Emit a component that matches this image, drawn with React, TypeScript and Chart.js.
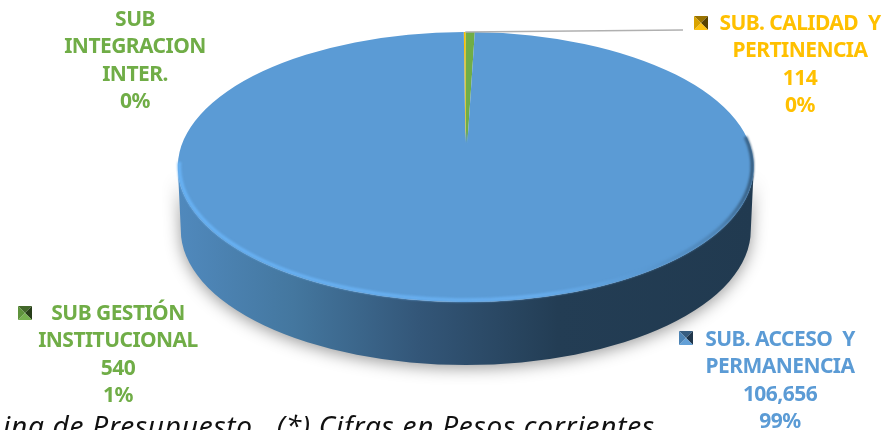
import React, { useEffect, useRef } from "react";
import { Chart, registerables } from "chart.js";

Chart.register(...registerables);

const categories = ["SUB. CALIDAD Y PERTINENCIA", "SUB GESTIÓN INSTITUCIONAL", "SUB. ACCESO Y PERMANENCIA", "SUB INTEGRACION INTER."];
const values = [114, 540, 106656, 0];
const sliceColors = ["#ffc000", "#70ad47", "#5b9bd5", "#70ad47"];

const labelLines = [
  ["SUB. CALIDAD  Y", "PERTINENCIA", "114", "0%"],
  ["SUB GESTIÓN", "INSTITUCIONAL", "540", "1%"],
  ["SUB. ACCESO  Y", "PERMANENCIA", "106,656", "99%"],
  ["SUB", "INTEGRACION", "INTER.", "0%"],
];
const labelCenters = [[800, 24], [118, 314], [780, 340], [135, 20]];
const markerSpots: (number[] | null)[] = [[694, 16], [18, 306], [679, 331], null];
const caption = "ina de Presupuesto.  (*) Cifras en Pesos corrientes";

const PIE = { cx: 465.8, cy: 167, rx: 288, ry: 135, depth: 63, bottomRx: 285 };
const LINE_GAP = 27.5;
const FONT = '700 21px "Noto Sans"';

const shade = (hex: string, f: number) => {
  const n = parseInt(hex.slice(1), 16);
  const c = [(n >> 16) & 255, (n >> 8) & 255, n & 255].map((v) => Math.round(f > 1 ? v + (255 - v) * (f - 1) : v * f));
  return `rgb(${c[0]},${c[1]},${c[2]})`;
};

const pie3d = {
  id: "pie3d",
  beforeDatasetsDraw(chart: any) {
    const { ctx } = chart;
    const { cx, cy, rx, ry, depth, bottomRx } = PIE;
    const wallPath = () => {
      ctx.beginPath();
      ctx.ellipse(cx, cy, rx, ry, 0, Math.PI, 0, true);
      ctx.ellipse(cx, cy + depth, bottomRx, ry, 0, 0, Math.PI, false);
      ctx.closePath();
    };
    const wall = ctx.createLinearGradient(cx - rx, 0, cx + rx, 0);
    wall.addColorStop(0, "#5089bd");
    wall.addColorStop(0.2, "#44779f");
    wall.addColorStop(0.42, "#335678");
    wall.addColorStop(0.66, "#233d54");
    wall.addColorStop(1, "#213a50");
    ctx.save();
    ctx.shadowColor = "rgba(0,0,0,0.4)";
    ctx.shadowBlur = 16;
    ctx.shadowOffsetY = 3;
    ctx.fillStyle = wall;
    wallPath();
    ctx.fill();
    ctx.restore();

    const arc = chart.getDatasetMeta(0).data[0];
    const r = arc.outerRadius;
    ctx.save();
    ctx.translate(cx, cy);
    ctx.scale(rx / r, ry / r);
    ctx.translate(-arc.x, -arc.y);
  },
  afterDatasetsDraw(chart: any) {
    const { ctx } = chart;
    const { cx, cy, rx, ry } = PIE;
    ctx.restore();

    // The perspective centre of the face sits above its ellipse centre
    const fade = ctx.createLinearGradient(0, cy - 36, 0, cy - 24);
    fade.addColorStop(0, "rgba(91,155,213,0)");
    fade.addColorStop(1, "rgba(91,155,213,1)");
    ctx.fillStyle = fade;
    ctx.fillRect(cx - 4, cy - 36, 8, 40);

    const rim = ctx.createLinearGradient(cx - rx, 0, cx + rx, 0);
    rim.addColorStop(0, "#68b2f4");
    rim.addColorStop(0.62, "#68aeee");
    rim.addColorStop(0.8, "#5b9bd5");
    rim.addColorStop(0.94, "#4d83b4");
    rim.addColorStop(1, "#34597a");
    ctx.save();
    ctx.strokeStyle = rim;
    ctx.lineWidth = 3.5;
    ctx.filter = "blur(1px)";
    ctx.beginPath();
    ctx.ellipse(cx, cy - 1, rx - 1.5, ry - 1, 0, Math.PI * 1.01, Math.PI * 1.93, true);
    ctx.stroke();
    ctx.restore();

    // Leader line of the smallest labelled slice
    ctx.save();
    ctx.strokeStyle = "#b0b0b0";
    ctx.lineWidth = 1.5;
    ctx.beginPath();
    ctx.moveTo(cx - 0.5, cy - ry);
    ctx.lineTo(markerSpots[0]![0] - 11, markerSpots[0]![1] + 14);
    ctx.stroke();
    ctx.restore();

    // Data labels
    ctx.save();
    ctx.font = FONT;
    (ctx as any).letterSpacing = "-0.55px";
    ctx.textAlign = "center";
    ctx.textBaseline = "middle";
    labelLines.forEach((lines, i) => {
      ctx.fillStyle = sliceColors[i];
      lines.forEach((t, j) => ctx.fillText(t, labelCenters[i][0], labelCenters[i][1] + j * LINE_GAP));
    });
    ctx.restore();

    // Bevelled legend keys
    markerSpots.forEach((m, i) => {
      if (!m) return;
      const [x, y] = m;
      const s = 14;
      const c = sliceColors[i];
      const tri = (pts: number[][], col: string) => {
        ctx.fillStyle = col;
        ctx.beginPath();
        ctx.moveTo(pts[0][0], pts[0][1]);
        ctx.lineTo(pts[1][0], pts[1][1]);
        ctx.lineTo(pts[2][0], pts[2][1]);
        ctx.closePath();
        ctx.fill();
      };
      const mid = [x + s / 2, y + s / 2];
      tri([[x, y], [x + s, y], mid], shade(c, 0.6));
      tri([[x + s, y], [x + s, y + s], mid], shade(c, 0.35));
      tri([[x, y + s], [x + s, y + s], mid], shade(c, 1.05));
      tri([[x, y], [x, y + s], mid], shade(c, 0.85));
    });

    // Caption, cut by the lower edge of the picture as in the source
    ctx.save();
    ctx.fillStyle = "#111111";
    ctx.font = 'italic 28px "Noto Sans"';
    (ctx as any).letterSpacing = "0.75px";
    ctx.textAlign = "left";
    ctx.textBaseline = "alphabetic";
    ctx.fillText(caption, 3, 436);
    ctx.restore();
  },
};

export default function App() {
  const ref = useRef<HTMLCanvasElement>(null);
  useEffect(() => {
    const chart = new Chart(ref.current!, {
      type: "pie",
      data: {
        labels: categories,
        datasets: [{ data: values, backgroundColor: sliceColors, borderWidth: 0, clip: false } as any],
      },
      options: {
        animation: false,
        responsive: false,
        rotation: -0.4,
        layout: { padding: 0 },
        plugins: { legend: { display: false }, tooltip: { enabled: false }, title: { display: false } },
      },
      plugins: [pie3d],
    });
    return () => chart.destroy();
  }, []);
  return (
    <div style={{ position: "fixed", left: 0, top: 0, width: 892, height: 430, background: "#fff", overflow: "hidden" }}>
      <canvas ref={ref} width={892} height={430} style={{ display: "block" }} />
    </div>
  );
}
